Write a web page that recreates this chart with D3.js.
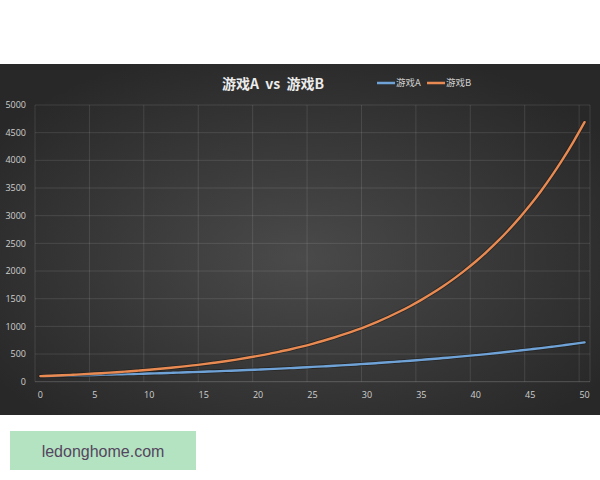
<!DOCTYPE html>
<html><head><meta charset="utf-8">
<script src="https://cdn.jsdelivr.net/npm/d3@7"></script>
<style>body{margin:0;background:#fff}svg{display:block}</style>
</head><body>
<svg id="c" width="600" height="480"></svg>
<script>
const xValues = d3.range(0, 51);
const seriesA = [100,104,108,112,117,122,127,132,137,142,148,154,160,167,173,180,187,195,203,211,219,228,237,246,256,267,277,288,300,312,324,337,351,365,379,395,410,427,444,462,480,499,519,540,562,584,607,632,657,683,711];
const seriesB = [100,108,117,126,136,147,159,171,185,200,216,233,252,272,294,317,343,370,400,432,466,503,544,587,634,685,740,799,863,932,1006,1087,1174,1268,1369,1479,1597,1725,1863,2012,2172,2346,2534,2737,2956,3192,3447,3723,4021,4343,4690];
const yTicks = [0,500,1000,1500,2000,2500,3000,3500,4000,4500,5000];
const xTicks = [0,5,10,15,20,25,30,35,40,45,50];
const seriesNames = ["游戏A","游戏B"];
const colors = ["#6fa3d8","#e88a52"];
const titleText = "游戏A  vs  游戏B";

const svg = d3.select("#c");
const defs = svg.append("defs");
const rg = defs.append("radialGradient").attr("id","bg").attr("cx","50%").attr("cy","55%").attr("r","62%");
rg.append("stop").attr("offset","0%").attr("stop-color","#4a4a4a");
rg.append("stop").attr("offset","100%").attr("stop-color","#282828");

svg.append("rect").attr("x",0).attr("y",64).attr("width",600).attr("height",351).attr("fill","url(#bg)");

const x = d3.scaleLinear().domain([-0.5, 50.5]).range([35, 590]);
const y = d3.scaleLinear().domain([0, 5000]).range([381.7, 105]);

svg.append("g").selectAll("line").data(yTicks).join("line")
  .attr("x1",35).attr("x2",590).attr("y1",d=>y(d)).attr("y2",d=>y(d))
  .attr("stroke","#ffffff").attr("stroke-opacity", d=>d===0?0.2:0.11).attr("stroke-width",1);
svg.append("g").selectAll("line").data(xTicks.map(t=>t-0.5).concat([50.5])).join("line")
  .attr("x1",d=>x(d)).attr("x2",d=>x(d)).attr("y1",105).attr("y2",381.7)
  .attr("stroke","#ffffff").attr("stroke-opacity",0.11).attr("stroke-width",1);

svg.append("g").selectAll("text").data(yTicks).join("text")
  .attr("x",26).attr("y",d=>y(d)).attr("dy","0.35em").attr("text-anchor","end")
  .attr("fill","#cfcfcf").attr("font-size",9).attr("font-family","'Open Sans', 'DejaVu Sans', sans-serif")
  .text(d=>d);
svg.append("g").selectAll("text").data(xTicks).join("text")
  .attr("x",d=>x(d)).attr("y",395).attr("dy","0.35em").attr("text-anchor","middle")
  .attr("fill","#cfcfcf").attr("font-size",9).attr("font-family","'Open Sans', 'DejaVu Sans', sans-serif")
  .text(d=>d);

const line = d3.line().x((d,i)=>x(xValues[i])).y(d=>y(d)).curve(d3.curveMonotoneX);
[seriesA, seriesB].forEach((s,k)=>{
  svg.append("path").attr("d",line(s)).attr("fill","none").attr("stroke","#1e1a18").attr("stroke-opacity",0.6).attr("stroke-width",4).attr("stroke-linecap","round");
  svg.append("path").attr("d",line(s)).attr("fill","none").attr("stroke",colors[k]).attr("stroke-width",2.4).attr("stroke-linecap","round");
});

svg.append("text").attr("x",273).attr("y",84).attr("dy","0.35em").attr("text-anchor","middle")
  .attr("fill","#ececec").attr("font-size",14).attr("font-weight","bold")
  .attr("font-family","'Noto Sans CJK SC', sans-serif").style("white-space","pre")
  .text(titleText);

const leg = [{x:377},{x:427}];
seriesNames.forEach((n,k)=>{
  svg.append("line").attr("x1",leg[k].x).attr("x2",leg[k].x+18).attr("y1",83).attr("y2",83)
    .attr("stroke",colors[k]).attr("stroke-width",2.5);
  svg.append("text").attr("x",leg[k].x+19).attr("y",83).attr("dy","0.35em")
    .attr("fill","#cfcfcf").attr("font-size",9.5).attr("font-family","'Noto Sans CJK SC', sans-serif")
    .text(n);
});

svg.append("rect").attr("x",10).attr("y",431).attr("width",186).attr("height",39).attr("fill","#b4e3c1");
svg.append("text").attr("x",103).attr("y",451).attr("dy","0.35em").attr("text-anchor","middle")
  .attr("fill","#54465f").attr("font-size",16).attr("font-family","'Liberation Sans', Arial, sans-serif")
  .text("ledonghome.com");
</script>
</body></html>
